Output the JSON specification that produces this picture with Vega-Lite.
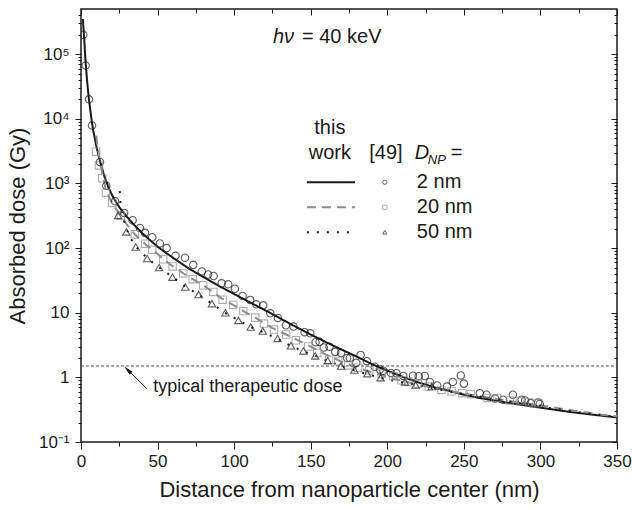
{
  "$schema": "https://vega.github.io/schema/vega-lite/v6.json",
  "width": 536,
  "height": 433,
  "autosize": {"type": "none"},
  "padding": {"left": 81, "top": 9, "right": 15, "bottom": 68},
  "background": "white",
  "config": {
    "font": "Liberation Sans",
    "view": {"stroke": "#1a1a1a", "strokeWidth": 1.5},
    "axis": {"domain": false, "grid": false, "tickColor": "#1a1a1a", "tickWidth": 1, "labelColor": "#1a1a1a", "titleColor": "#1a1a1a", "labelFont": "Liberation Sans", "titleFont": "Liberation Sans", "titleFontWeight": "normal", "labelFlush": false, "labelOverlap": false, "labelBound": false},
    "text": {"font": "Liberation Sans", "color": "#1a1a1a"}
  },
  "datasets": {
    "lines": [
      {"d": 1.2, "v": 350000, "s": "2 nm"}, {"d": 2, "v": 190000, "s": "2 nm"}, {"d": 3, "v": 75000, "s": "2 nm"}, {"d": 4, "v": 38000, "s": "2 nm"}, {"d": 5, "v": 22000, "s": "2 nm"}, {"d": 6, "v": 14000, "s": "2 nm"}, {"d": 7, "v": 9300, "s": "2 nm"}, {"d": 8, "v": 6600, "s": "2 nm"}, {"d": 10, "v": 3800, "s": "2 nm"}, {"d": 12, "v": 2400, "s": "2 nm"}, {"d": 15, "v": 1350, "s": "2 nm"}, {"d": 18, "v": 860, "s": "2 nm"}, {"d": 21, "v": 610, "s": "2 nm"}, {"d": 25, "v": 430, "s": "2 nm"}, {"d": 29, "v": 325, "s": "2 nm"}, {"d": 35, "v": 225, "s": "2 nm"}, {"d": 40, "v": 170, "s": "2 nm"}, {"d": 45, "v": 133, "s": "2 nm"}, {"d": 50, "v": 105, "s": "2 nm"}, {"d": 55, "v": 86, "s": "2 nm"}, {"d": 60, "v": 71, "s": "2 nm"}, {"d": 70, "v": 49, "s": "2 nm"}, {"d": 80, "v": 35.5, "s": "2 nm"}, {"d": 90, "v": 26, "s": "2 nm"}, {"d": 100, "v": 19.5, "s": "2 nm"}, {"d": 110, "v": 14.6, "s": "2 nm"}, {"d": 120, "v": 11, "s": "2 nm"}, {"d": 130, "v": 8.2, "s": "2 nm"}, {"d": 140, "v": 6.1, "s": "2 nm"}, {"d": 150, "v": 4.6, "s": "2 nm"}, {"d": 160, "v": 3.5, "s": "2 nm"}, {"d": 170, "v": 2.7, "s": "2 nm"}, {"d": 180, "v": 2.1, "s": "2 nm"}, {"d": 190, "v": 1.6, "s": "2 nm"}, {"d": 200, "v": 1.27, "s": "2 nm"}, {"d": 210, "v": 1.02, "s": "2 nm"}, {"d": 220, "v": 0.84, "s": "2 nm"}, {"d": 230, "v": 0.71, "s": "2 nm"}, {"d": 240, "v": 0.62, "s": "2 nm"}, {"d": 250, "v": 0.54, "s": "2 nm"}, {"d": 260, "v": 0.48, "s": "2 nm"}, {"d": 280, "v": 0.4, "s": "2 nm"}, {"d": 300, "v": 0.34, "s": "2 nm"}, {"d": 320, "v": 0.29, "s": "2 nm"}, {"d": 340, "v": 0.255, "s": "2 nm"}, {"d": 350, "v": 0.24, "s": "2 nm"},
      {"d": 10, "v": 5500, "s": "20 nm"}, {"d": 10.5, "v": 4200, "s": "20 nm"}, {"d": 11, "v": 3500, "s": "20 nm"}, {"d": 12, "v": 2500, "s": "20 nm"}, {"d": 14, "v": 1400, "s": "20 nm"}, {"d": 16, "v": 850, "s": "20 nm"}, {"d": 18, "v": 640, "s": "20 nm"}, {"d": 20, "v": 520, "s": "20 nm"}, {"d": 23, "v": 400, "s": "20 nm"}, {"d": 26, "v": 320, "s": "20 nm"}, {"d": 30, "v": 230, "s": "20 nm"}, {"d": 35, "v": 165, "s": "20 nm"}, {"d": 42, "v": 115, "s": "20 nm"}, {"d": 47, "v": 93, "s": "20 nm"}, {"d": 54, "v": 67, "s": "20 nm"}, {"d": 60, "v": 52, "s": "20 nm"}, {"d": 67, "v": 40.5, "s": "20 nm"}, {"d": 73, "v": 33, "s": "20 nm"}, {"d": 80, "v": 26.5, "s": "20 nm"}, {"d": 86, "v": 21, "s": "20 nm"}, {"d": 92, "v": 16.5, "s": "20 nm"}, {"d": 99, "v": 13.3, "s": "20 nm"}, {"d": 106, "v": 10.6, "s": "20 nm"}, {"d": 114, "v": 8.3, "s": "20 nm"}, {"d": 120, "v": 6.8, "s": "20 nm"}, {"d": 127, "v": 5.5, "s": "20 nm"}, {"d": 134, "v": 4.6, "s": "20 nm"}, {"d": 141, "v": 3.8, "s": "20 nm"}, {"d": 150, "v": 3.0, "s": "20 nm"}, {"d": 160, "v": 2.25, "s": "20 nm"}, {"d": 170, "v": 1.75, "s": "20 nm"}, {"d": 180, "v": 1.42, "s": "20 nm"}, {"d": 190, "v": 1.2, "s": "20 nm"}, {"d": 200, "v": 1.02, "s": "20 nm"}, {"d": 210, "v": 0.88, "s": "20 nm"}, {"d": 220, "v": 0.77, "s": "20 nm"}, {"d": 240, "v": 0.62, "s": "20 nm"}, {"d": 260, "v": 0.51, "s": "20 nm"}, {"d": 280, "v": 0.43, "s": "20 nm"}, {"d": 300, "v": 0.37, "s": "20 nm"}, {"d": 320, "v": 0.31, "s": "20 nm"}, {"d": 340, "v": 0.265, "s": "20 nm"}, {"d": 350, "v": 0.25, "s": "20 nm"},
      {"d": 25.3, "v": 760, "s": "50 nm"}, {"d": 25.8, "v": 480, "s": "50 nm"}, {"d": 27, "v": 330, "s": "50 nm"}, {"d": 29.8, "v": 195, "s": "50 nm"}, {"d": 33, "v": 135, "s": "50 nm"}, {"d": 36, "v": 104, "s": "50 nm"}, {"d": 43.5, "v": 69, "s": "50 nm"}, {"d": 51, "v": 50, "s": "50 nm"}, {"d": 60, "v": 35.5, "s": "50 nm"}, {"d": 68, "v": 25.5, "s": "50 nm"}, {"d": 77, "v": 19, "s": "50 nm"}, {"d": 85.5, "v": 13.8, "s": "50 nm"}, {"d": 94, "v": 10, "s": "50 nm"}, {"d": 103, "v": 7.6, "s": "50 nm"}, {"d": 111, "v": 6.0, "s": "50 nm"}, {"d": 119, "v": 5.0, "s": "50 nm"}, {"d": 129, "v": 3.9, "s": "50 nm"}, {"d": 137, "v": 3.05, "s": "50 nm"}, {"d": 145, "v": 2.55, "s": "50 nm"}, {"d": 153, "v": 2.15, "s": "50 nm"}, {"d": 161, "v": 1.8, "s": "50 nm"}, {"d": 170, "v": 1.5, "s": "50 nm"}, {"d": 179, "v": 1.28, "s": "50 nm"}, {"d": 187, "v": 1.12, "s": "50 nm"}, {"d": 196, "v": 0.98, "s": "50 nm"}, {"d": 205, "v": 0.88, "s": "50 nm"}, {"d": 212, "v": 0.82, "s": "50 nm"}, {"d": 220, "v": 0.76, "s": "50 nm"}, {"d": 240, "v": 0.61, "s": "50 nm"}, {"d": 260, "v": 0.5, "s": "50 nm"}, {"d": 280, "v": 0.42, "s": "50 nm"}, {"d": 300, "v": 0.355, "s": "50 nm"}, {"d": 320, "v": 0.3, "s": "50 nm"}, {"d": 340, "v": 0.26, "s": "50 nm"}, {"d": 350, "v": 0.245, "s": "50 nm"}
    ],
    "pts": [
      {"d": 1.5, "v": 200000, "s": "2 nm"}, {"d": 3, "v": 67000, "s": "2 nm"}, {"d": 5.2, "v": 20000, "s": "2 nm"}, {"d": 7.2, "v": 7900, "s": "2 nm"}, {"d": 12.4, "v": 2150, "s": "2 nm"}, {"d": 16.5, "v": 920, "s": "2 nm"}, {"d": 22.3, "v": 530, "s": "2 nm"}, {"d": 28.2, "v": 350, "s": "2 nm"}, {"d": 33.7, "v": 270, "s": "2 nm"}, {"d": 38.5, "v": 204, "s": "2 nm"}, {"d": 41.8, "v": 172, "s": "2 nm"}, {"d": 46.5, "v": 147, "s": "2 nm"}, {"d": 51.5, "v": 118, "s": "2 nm"}, {"d": 55.9, "v": 100, "s": "2 nm"}, {"d": 61.7, "v": 76, "s": "2 nm"}, {"d": 67.9, "v": 71, "s": "2 nm"}, {"d": 73.3, "v": 55, "s": "2 nm"}, {"d": 78.9, "v": 43.5, "s": "2 nm"}, {"d": 83, "v": 39, "s": "2 nm"}, {"d": 86.6, "v": 37, "s": "2 nm"}, {"d": 91.8, "v": 28.5, "s": "2 nm"}, {"d": 96.1, "v": 27.5, "s": "2 nm"}, {"d": 100.5, "v": 23.5, "s": "2 nm"}, {"d": 105.5, "v": 18.2, "s": "2 nm"}, {"d": 110.5, "v": 15.8, "s": "2 nm"}, {"d": 114.5, "v": 13.5, "s": "2 nm"}, {"d": 119, "v": 13, "s": "2 nm"}, {"d": 123.6, "v": 9.8, "s": "2 nm"}, {"d": 128.6, "v": 8.3, "s": "2 nm"}, {"d": 133.8, "v": 6.4, "s": "2 nm"}, {"d": 138.8, "v": 6.1, "s": "2 nm"}, {"d": 146, "v": 5.0, "s": "2 nm"}, {"d": 149.7, "v": 4.8, "s": "2 nm"}, {"d": 153.2, "v": 3.5, "s": "2 nm"}, {"d": 155.8, "v": 3.55, "s": "2 nm"}, {"d": 158.5, "v": 2.9, "s": "2 nm"}, {"d": 162.3, "v": 2.98, "s": "2 nm"}, {"d": 166, "v": 2.48, "s": "2 nm"}, {"d": 169.8, "v": 2.38, "s": "2 nm"}, {"d": 173.8, "v": 2.0, "s": "2 nm"}, {"d": 175.5, "v": 2.0, "s": "2 nm"}, {"d": 179.8, "v": 1.68, "s": "2 nm"}, {"d": 182.6, "v": 2.22, "s": "2 nm"}, {"d": 186.7, "v": 1.78, "s": "2 nm"}, {"d": 191.8, "v": 1.46, "s": "2 nm"}, {"d": 195.2, "v": 1.32, "s": "2 nm"}, {"d": 197.5, "v": 1.27, "s": "2 nm"}, {"d": 202.4, "v": 1.17, "s": "2 nm"}, {"d": 206, "v": 1.16, "s": "2 nm"}, {"d": 210.5, "v": 1.05, "s": "2 nm"}, {"d": 216.8, "v": 1.06, "s": "2 nm"}, {"d": 220.5, "v": 1.04, "s": "2 nm"}, {"d": 224.5, "v": 1.05, "s": "2 nm"}, {"d": 227.8, "v": 0.85, "s": "2 nm"}, {"d": 232.6, "v": 0.75, "s": "2 nm"}, {"d": 239, "v": 0.72, "s": "2 nm"}, {"d": 242.8, "v": 0.85, "s": "2 nm"}, {"d": 248, "v": 1.07, "s": "2 nm"}, {"d": 250, "v": 0.8, "s": "2 nm"}, {"d": 260.4, "v": 0.57, "s": "2 nm"}, {"d": 264.8, "v": 0.54, "s": "2 nm"}, {"d": 270.4, "v": 0.47, "s": "2 nm"}, {"d": 275.7, "v": 0.45, "s": "2 nm"}, {"d": 282, "v": 0.54, "s": "2 nm"}, {"d": 287.7, "v": 0.45, "s": "2 nm"}, {"d": 290, "v": 0.44, "s": "2 nm"}, {"d": 293.7, "v": 0.4, "s": "2 nm"}, {"d": 298.5, "v": 0.41, "s": "2 nm"}, {"d": 299.6, "v": 0.39, "s": "2 nm"},
      {"d": 9.8, "v": 3100, "s": "20 nm"}, {"d": 11.7, "v": 1900, "s": "20 nm"}, {"d": 13.9, "v": 1200, "s": "20 nm"}, {"d": 16.3, "v": 720, "s": "20 nm"}, {"d": 20.4, "v": 500, "s": "20 nm"}, {"d": 26, "v": 320, "s": "20 nm"}, {"d": 35.2, "v": 163, "s": "20 nm"}, {"d": 41.8, "v": 117, "s": "20 nm"}, {"d": 46.5, "v": 94, "s": "20 nm"}, {"d": 53.7, "v": 67, "s": "20 nm"}, {"d": 59.8, "v": 52, "s": "20 nm"}, {"d": 66.8, "v": 40.5, "s": "20 nm"}, {"d": 72.9, "v": 33, "s": "20 nm"}, {"d": 79.8, "v": 26.5, "s": "20 nm"}, {"d": 86.4, "v": 21, "s": "20 nm"}, {"d": 92.5, "v": 15.9, "s": "20 nm"}, {"d": 99.4, "v": 13.2, "s": "20 nm"}, {"d": 106, "v": 10.6, "s": "20 nm"}, {"d": 113.8, "v": 8.4, "s": "20 nm"}, {"d": 119.5, "v": 6.8, "s": "20 nm"}, {"d": 126, "v": 5.5, "s": "20 nm"}, {"d": 134, "v": 4.6, "s": "20 nm"}, {"d": 140.3, "v": 3.75, "s": "20 nm"}, {"d": 148.4, "v": 3.0, "s": "20 nm"}, {"d": 154.2, "v": 2.38, "s": "20 nm"}, {"d": 162, "v": 1.88, "s": "20 nm"}, {"d": 168, "v": 1.79, "s": "20 nm"}, {"d": 174.5, "v": 1.53, "s": "20 nm"}, {"d": 181, "v": 1.41, "s": "20 nm"}, {"d": 188.2, "v": 1.28, "s": "20 nm"}, {"d": 196.3, "v": 1.14, "s": "20 nm"}, {"d": 203.9, "v": 1.04, "s": "20 nm"}, {"d": 209.3, "v": 0.9, "s": "20 nm"}, {"d": 213.6, "v": 0.85, "s": "20 nm"}, {"d": 220, "v": 0.8, "s": "20 nm"}, {"d": 227, "v": 0.72, "s": "20 nm"}, {"d": 235.4, "v": 0.64, "s": "20 nm"}, {"d": 242, "v": 0.61, "s": "20 nm"}, {"d": 249, "v": 0.57, "s": "20 nm"}, {"d": 254.6, "v": 0.55, "s": "20 nm"}, {"d": 265.5, "v": 0.48, "s": "20 nm"}, {"d": 271.7, "v": 0.48, "s": "20 nm"}, {"d": 280, "v": 0.44, "s": "20 nm"}, {"d": 286.6, "v": 0.43, "s": "20 nm"}, {"d": 292.6, "v": 0.41, "s": "20 nm"}, {"d": 298.5, "v": 0.4, "s": "20 nm"},
      {"d": 24.2, "v": 320, "s": "50 nm"}, {"d": 29.6, "v": 178, "s": "50 nm"}, {"d": 35.8, "v": 104, "s": "50 nm"}, {"d": 43.2, "v": 69, "s": "50 nm"}, {"d": 51, "v": 50, "s": "50 nm"}, {"d": 59.7, "v": 35.5, "s": "50 nm"}, {"d": 68.1, "v": 25, "s": "50 nm"}, {"d": 76.8, "v": 19.1, "s": "50 nm"}, {"d": 85.5, "v": 13.8, "s": "50 nm"}, {"d": 94.3, "v": 10, "s": "50 nm"}, {"d": 102.8, "v": 7.6, "s": "50 nm"}, {"d": 110.8, "v": 6.0, "s": "50 nm"}, {"d": 118.7, "v": 5.2, "s": "50 nm"}, {"d": 128.4, "v": 4.0, "s": "50 nm"}, {"d": 137.1, "v": 3.08, "s": "50 nm"}, {"d": 145.2, "v": 2.57, "s": "50 nm"}, {"d": 152.9, "v": 2.15, "s": "50 nm"}, {"d": 161.1, "v": 1.81, "s": "50 nm"}, {"d": 169.8, "v": 1.5, "s": "50 nm"}, {"d": 178.5, "v": 1.3, "s": "50 nm"}, {"d": 186.9, "v": 1.14, "s": "50 nm"}, {"d": 195.6, "v": 0.99, "s": "50 nm"}, {"d": 211.5, "v": 0.85, "s": "50 nm"}, {"d": 218.5, "v": 0.76, "s": "50 nm"}, {"d": 229, "v": 0.72, "s": "50 nm"}
    ]
  },
  "resolve": {"axis": {"x": "independent", "y": "independent"}},
  "layer": [
    {
      "data": {"values": [{"a": 0, "b": 350, "v": 1.5}]},
      "mark": {"type": "rule", "color": "#555555", "strokeWidth": 1, "strokeDash": [3, 2]},
      "encoding": {
        "x": {"field": "a", "type": "quantitative", "scale": {"domain": [0, 350], "nice": false, "zero": false}, "axis": null},
        "x2": {"field": "b"},
        "y": {"field": "v", "type": "quantitative", "scale": {"type": "log", "domain": [0.1, 500000], "nice": false}, "axis": null}
      }
    },
    {
      "data": {"name": "lines"},
      "mark": {"type": "line", "clip": true, "strokeWidth": 2},
      "encoding": {
        "x": {"field": "d", "type": "quantitative", "scale": {"domain": [0, 350], "nice": false, "zero": false},
          "axis": {"orient": "bottom", "values": [0, 50, 100, 150, 200, 250, 300, 350], "tickSize": 7, "labelFontSize": 17, "labelPadding": 4, "title": "Distance from nanoparticle center (nm)", "titleFontSize": 22, "titlePadding": 10}},
        "y": {"field": "v", "type": "quantitative", "scale": {"type": "log", "domain": [0.1, 500000], "nice": false},
          "axis": {"orient": "left", "values": [0.1, 1, 10, 100, 1000, 10000, 100000], "tickSize": 6, "labelFontSize": 17, "labelPadding": 6,
            "labelExpr": "datum.value < 0.5 ? '10⁻¹' : datum.value < 5 ? '1' : datum.value < 50 ? '10' : datum.value < 500 ? '10²' : datum.value < 5000 ? '10³' : datum.value < 50000 ? '10⁴' : '10⁵'",
            "title": "Absorbed dose (Gy)", "titleFontSize": 22, "titlePadding": 9}},
        "color": {"field": "s", "type": "nominal", "scale": {"domain": ["2 nm", "20 nm", "50 nm"], "range": ["#1a1a1a", "#8c8c8c", "#1a1a1a"]}, "legend": null},
        "strokeDash": {"field": "s", "type": "nominal", "scale": {"domain": ["2 nm", "20 nm", "50 nm"], "range": [[1, 0], [9, 6], [2, 8]]}, "legend": null}
      }
    },
    {
      "data": {"name": "pts"},
      "mark": {"type": "point", "filled": false, "strokeWidth": 1.1, "size": 55, "clip": true},
      "encoding": {
        "x": {"field": "d", "type": "quantitative", "scale": {"domain": [0, 350], "nice": false, "zero": false},
          "axis": {"orient": "bottom", "values": [25, 75, 125, 175, 225, 275, 325], "tickSize": 4, "labels": false, "title": null}},
        "y": {"field": "v", "type": "quantitative", "scale": {"type": "log", "domain": [0.1, 500000], "nice": false},
          "axis": {"orient": "left", "values": [0.2, 0.3, 0.4, 0.5, 0.6, 0.7, 0.8, 0.9, 2, 3, 4, 5, 6, 7, 8, 9, 20, 30, 40, 50, 60, 70, 80, 90, 200, 300, 400, 500, 600, 700, 800, 900, 2000, 3000, 4000, 5000, 6000, 7000, 8000, 9000, 20000, 30000, 40000, 50000, 60000, 70000, 80000, 90000, 200000, 300000, 400000], "tickSize": 3, "labels": false, "title": null}},
        "color": {"field": "s", "type": "nominal", "scale": {"domain": ["2 nm", "20 nm", "50 nm"], "range": ["#1a1a1a", "#8c8c8c", "#1a1a1a"]}, "legend": null},
        "shape": {"field": "s", "type": "nominal", "scale": {"domain": ["2 nm", "20 nm", "50 nm"], "range": ["circle", "square", "triangle-up"]}, "legend": null}
      }
    },
    {
      "data": {"values": [
        {"x1": 147.5, "x2": 178.9, "v": 1044, "s": "2 nm"},
        {"x1": 147.5, "x2": 178.9, "v": 428, "s": "20 nm"},
        {"x1": 147.5, "x2": 178.9, "v": 176, "s": "50 nm"}
      ]},
      "mark": {"type": "rule", "strokeWidth": 2},
      "encoding": {
        "x": {"field": "x1", "type": "quantitative", "scale": {"domain": [0, 350], "nice": false, "zero": false},
          "axis": {"orient": "top", "values": [0, 50, 100, 150, 200, 250, 300, 350], "tickSize": -6, "labels": false, "title": null}},
        "x2": {"field": "x2"},
        "y": {"field": "v", "type": "quantitative", "scale": {"type": "log", "domain": [0.1, 500000], "nice": false},
          "axis": {"orient": "right", "values": [0.1, 1, 10, 100, 1000, 10000, 100000], "tickSize": -6, "labels": false, "title": null}},
        "color": {"field": "s", "type": "nominal", "scale": {"domain": ["2 nm", "20 nm", "50 nm"], "range": ["#1a1a1a", "#8c8c8c", "#1a1a1a"]}, "legend": null},
        "strokeDash": {"field": "s", "type": "nominal", "scale": {"domain": ["2 nm", "20 nm", "50 nm"], "range": [[1, 0], [9, 6], [2, 8]]}, "legend": null}
      }
    },
    {
      "data": {"values": [
        {"d": 198.4, "v": 1044, "s": "2 nm"},
        {"d": 198.4, "v": 428, "s": "20 nm"},
        {"d": 198.4, "v": 176, "s": "50 nm"}
      ]},
      "mark": {"type": "point", "filled": false, "strokeWidth": 1, "size": 18},
      "encoding": {
        "x": {"field": "d", "type": "quantitative", "scale": {"domain": [0, 350], "nice": false, "zero": false},
          "axis": {"orient": "top", "values": [25, 75, 125, 175, 225, 275, 325], "tickSize": -4, "labels": false, "title": null}},
        "y": {"field": "v", "type": "quantitative", "scale": {"type": "log", "domain": [0.1, 500000], "nice": false},
          "axis": {"orient": "right", "values": [0.2, 0.3, 0.4, 0.5, 0.6, 0.7, 0.8, 0.9, 2, 3, 4, 5, 6, 7, 8, 9, 20, 30, 40, 50, 60, 70, 80, 90, 200, 300, 400, 500, 600, 700, 800, 900, 2000, 3000, 4000, 5000, 6000, 7000, 8000, 9000, 20000, 30000, 40000, 50000, 60000, 70000, 80000, 90000, 200000, 300000, 400000], "tickSize": -3, "labels": false, "title": null}},
        "color": {"field": "s", "type": "nominal", "scale": {"domain": ["2 nm", "20 nm", "50 nm"], "range": ["#1a1a1a", "#8c8c8c", "#1a1a1a"]}, "legend": null},
        "shape": {"field": "s", "type": "nominal", "scale": {"domain": ["2 nm", "20 nm", "50 nm"], "range": ["circle", "square", "triangle-up"]}, "legend": null}
      }
    },
    {
      "data": {"values": [
        {"d": 144.3, "v": 183000, "t": "= 40 keV"},
        {"d": 219.3, "v": 1044, "t": "2 nm"},
        {"d": 219.3, "v": 428, "t": "20 nm"},
        {"d": 219.3, "v": 176, "t": "50 nm"},
        {"d": 241.5, "v": 2934, "t": "="}
      ]},
      "mark": {"type": "text", "fontSize": 20, "align": "left", "baseline": "middle"},
      "encoding": {
        "x": {"field": "d", "type": "quantitative", "scale": {"domain": [0, 350], "nice": false, "zero": false}, "axis": null},
        "y": {"field": "v", "type": "quantitative", "scale": {"type": "log", "domain": [0.1, 500000], "nice": false}, "axis": null},
        "text": {"field": "t", "type": "nominal"}
      }
    },
    {
      "data": {"values": [
        {"d": 162.5, "v": 7150, "t": "this"},
        {"d": 162.5, "v": 2934, "t": "work"},
        {"d": 199.1, "v": 2934, "t": "[49]"}
      ]},
      "mark": {"type": "text", "fontSize": 20, "align": "center", "baseline": "middle"},
      "encoding": {
        "x": {"field": "d", "type": "quantitative", "scale": {"domain": [0, 350], "nice": false, "zero": false}, "axis": null},
        "y": {"field": "v", "type": "quantitative", "scale": {"type": "log", "domain": [0.1, 500000], "nice": false}, "axis": null},
        "text": {"field": "t", "type": "nominal"}
      }
    },
    {
      "data": {"values": [
        {"d": 125.3, "v": 183000, "t": "hν"},
        {"d": 218, "v": 2934, "t": "D"}
      ]},
      "mark": {"type": "text", "fontSize": 20, "fontStyle": "italic", "align": "left", "baseline": "middle"},
      "encoding": {
        "x": {"field": "d", "type": "quantitative", "scale": {"domain": [0, 350], "nice": false, "zero": false}, "axis": null},
        "y": {"field": "v", "type": "quantitative", "scale": {"type": "log", "domain": [0.1, 500000], "nice": false}, "axis": null},
        "text": {"field": "t", "type": "nominal"}
      }
    },
    {
      "data": {"values": [
        {"d": 226.5, "v": 2287, "t": "NP"}
      ]},
      "mark": {"type": "text", "fontSize": 13, "fontStyle": "italic", "align": "left", "baseline": "middle"},
      "encoding": {
        "x": {"field": "d", "type": "quantitative", "scale": {"domain": [0, 350], "nice": false, "zero": false}, "axis": null},
        "y": {"field": "v", "type": "quantitative", "scale": {"type": "log", "domain": [0.1, 500000], "nice": false}, "axis": null},
        "text": {"field": "t", "type": "nominal"}
      }
    },
    {
      "data": {"values": [
        {"d": 47.2, "v": 0.708, "t": "typical therapeutic dose"}
      ]},
      "mark": {"type": "text", "fontSize": 18, "align": "left", "baseline": "middle"},
      "encoding": {
        "x": {"field": "d", "type": "quantitative", "scale": {"domain": [0, 350], "nice": false, "zero": false}, "axis": null},
        "y": {"field": "v", "type": "quantitative", "scale": {"type": "log", "domain": [0.1, 500000], "nice": false}, "axis": null},
        "text": {"field": "t", "type": "nominal"}
      }
    },
    {
      "data": {"values": [
        {"d": 42.9, "v": 0.668, "d2": 31.0, "v2": 1.27}
      ]},
      "mark": {"type": "rule", "color": "#1a1a1a", "strokeWidth": 1},
      "encoding": {
        "x": {"field": "d", "type": "quantitative", "scale": {"domain": [0, 350], "nice": false, "zero": false}, "axis": null},
        "y": {"field": "v", "type": "quantitative", "scale": {"type": "log", "domain": [0.1, 500000], "nice": false}, "axis": null},
        "x2": {"field": "d2"},
        "y2": {"field": "v2"}
      }
    },
    {
      "data": {"values": [
        {"d": 31.0, "v": 1.27}
      ]},
      "mark": {"type": "point", "shape": "M0,-1L0.35,0.6L-0.35,0.6Z", "angle": -45, "size": 150, "filled": true, "color": "#1a1a1a", "opacity": 1},
      "encoding": {
        "x": {"field": "d", "type": "quantitative", "scale": {"domain": [0, 350], "nice": false, "zero": false}, "axis": null},
        "y": {"field": "v", "type": "quantitative", "scale": {"type": "log", "domain": [0.1, 500000], "nice": false}, "axis": null}
      }
    }
  ]
}
